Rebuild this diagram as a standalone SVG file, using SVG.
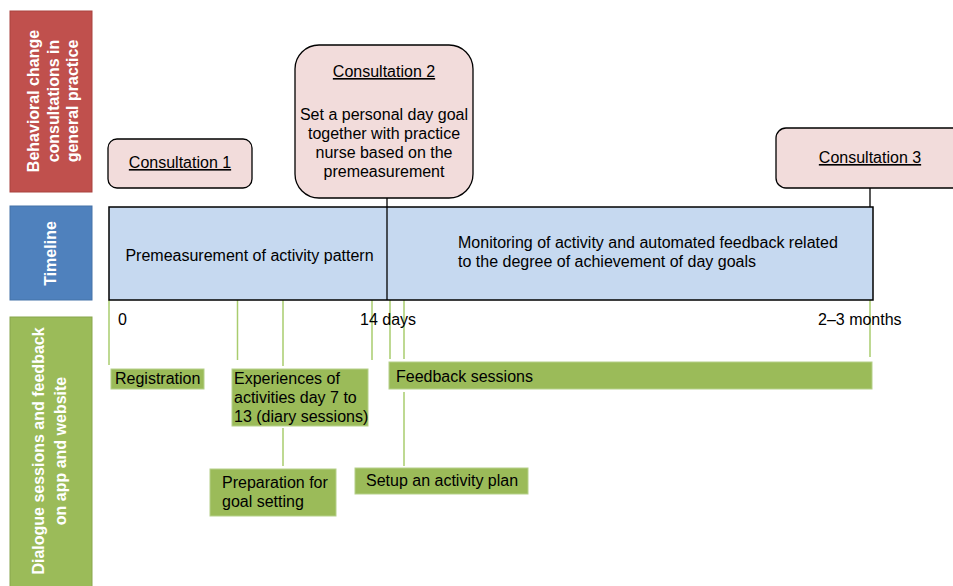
<svg xmlns="http://www.w3.org/2000/svg" width="953" height="586" viewBox="0 0 953 586">
<style>
text{font-family:"Liberation Sans",Arial,sans-serif;font-size:16px;fill:#000}
.lbl{font-weight:bold;fill:#fff;text-anchor:middle}
.cons{fill:#f2dcdb;stroke:#000;stroke-width:1.3}
.tl{fill:#c6d9f0;stroke:#000;stroke-width:1.5}
.gbox{fill:#9bbb59;stroke:#b5d08a;stroke-width:1}
.gl{stroke:#a9cc6e;stroke-width:1.5;fill:none}
.bl{stroke:#000;stroke-width:1.3;fill:none}
.mid{text-anchor:middle}
</style>
<g id="label-consultations">
<rect x="10" y="11" width="82" height="181" fill="#c0504d" stroke="#a9423f" stroke-width="1"/>
<g transform="translate(51,101) rotate(-90)">
<text class="lbl" x="0" y="-12.5">Behavioral change</text>
<text class="lbl" x="0" y="7.5">consultations in</text>
<text class="lbl" x="0" y="26.5">general practice</text>
</g>
</g>
<g id="label-timeline">
<rect x="10" y="206" width="82" height="94" fill="#4f81bd" stroke="#4572a8" stroke-width="1"/>
<text class="lbl" transform="translate(55.5,253.5) rotate(-90)" x="0" y="0">Timeline</text>
</g>
<g id="label-dialogue">
<rect x="10" y="317" width="82" height="275" fill="#9bbb59" stroke="#88a64c" stroke-width="1"/>
<g transform="translate(49,451) rotate(-90)">
<text class="lbl" x="0" y="-5.5">Dialogue sessions and feedback</text>
<text class="lbl" x="0" y="16.5">on app and website</text>
</g>
</g>
<g id="connectors">
<line class="bl" x1="387" y1="198" x2="387" y2="207"/>
<line class="bl" x1="870" y1="188" x2="870" y2="207"/>
<line class="gl" x1="109" y1="300" x2="109" y2="365"/>
<line class="gl" x1="237.5" y1="300" x2="237.5" y2="360"/>
<line class="gl" x1="283" y1="300" x2="283" y2="366"/>
<line class="gl" x1="283" y1="428" x2="283" y2="466"/>
<line class="gl" x1="372" y1="300" x2="372" y2="360"/>
<line class="gl" x1="390" y1="300" x2="390" y2="359"/>
<line class="gl" x1="404" y1="300" x2="404" y2="359"/>
<line class="gl" x1="404" y1="392" x2="404" y2="466"/>
<line class="gl" x1="870" y1="300" x2="870" y2="357"/>
</g>
<g id="consultation-1">
<rect class="cons" x="108" y="139" width="144" height="49" rx="9"/>
<text class="mid" x="180" y="168" text-decoration="underline">Consultation 1</text>
</g>
<g id="consultation-2">
<rect class="cons" x="295" y="45" width="178" height="153" rx="24"/>
<text class="mid" x="384" y="77" text-decoration="underline">Consultation 2</text>
<text class="mid" x="384" y="120">Set a personal day goal</text>
<text class="mid" x="384" y="139">together with practice</text>
<text class="mid" x="384" y="158">nurse based on the</text>
<text class="mid" x="384" y="177">premeasurement</text>
</g>
<g id="consultation-3">
<rect class="cons" x="776" y="128" width="190" height="60" rx="10"/>
<text class="mid" x="870" y="163" text-decoration="underline">Consultation 3</text>
</g>
<g id="timeline">
<rect class="tl" x="109" y="207" width="764" height="93"/>
<line class="bl" x1="387" y1="207" x2="387" y2="300"/>
<text class="mid" x="249.5" y="261">Premeasurement of activity pattern</text>
<text x="458" y="248">Monitoring of activity and automated feedback related</text>
<text x="458" y="267">to the degree of achievement of day goals</text>
<text x="118" y="325">0</text>
<text x="360" y="325">14 days</text>
<text x="818" y="325">2–3 months</text>
</g>
<g id="registration">
<rect class="gbox" x="111" y="369" width="93" height="20"/>
<text x="115" y="384">Registration</text>
</g>
<g id="experiences">
<rect class="gbox" x="232" y="369" width="136" height="57"/>
<text x="234" y="384">Experiences of</text>
<text x="234" y="403">activities day 7 to</text>
<text x="234" y="422">13 (diary sessions)</text>
</g>
<g id="feedback-sessions">
<rect class="gbox" x="389" y="362" width="483" height="27"/>
<text x="396" y="382">Feedback sessions</text>
</g>
<g id="preparation">
<rect class="gbox" x="210" y="469" width="126" height="47"/>
<text x="222" y="488">Preparation for</text>
<text x="222" y="507">goal setting</text>
</g>
<g id="setup">
<rect class="gbox" x="355" y="468" width="173" height="26"/>
<text x="366" y="486">Setup an activity plan</text>
</g>
</svg>
